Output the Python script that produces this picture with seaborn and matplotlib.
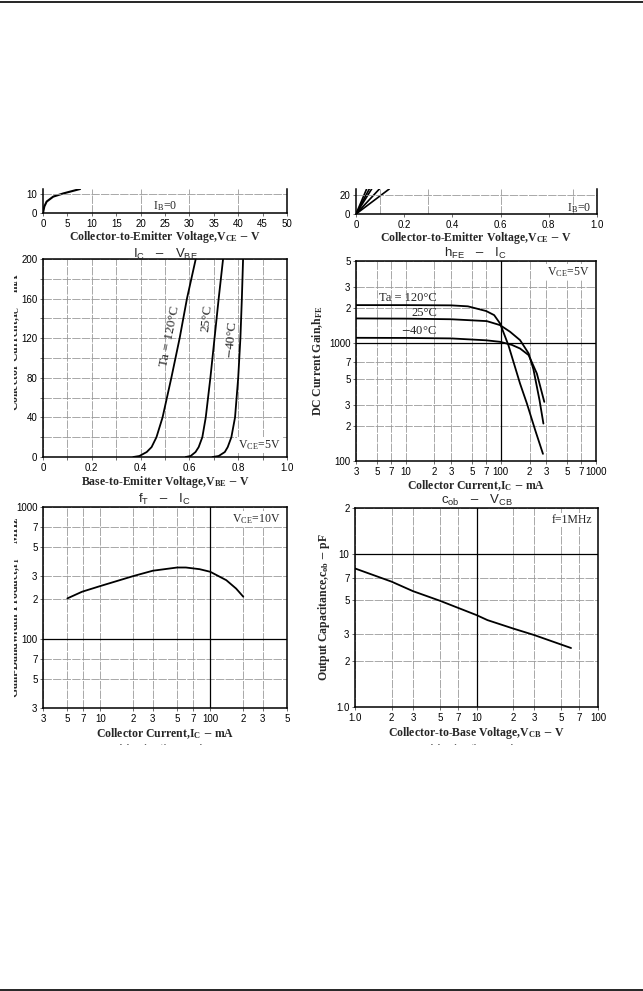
import numpy as np
import pandas as pd
import matplotlib
matplotlib.use('Agg')
import matplotlib.pyplot as plt
import seaborn as sns
from matplotlib.patches import Rectangle
from matplotlib.lines import Line2D

sns.set_theme(style='white')
plt.rcParams['font.family'] = ['Liberation Serif', 'DejaVu Serif']
plt.rcParams['mathtext.fontset'] = 'stix'

# ---------------- data ----------------
# IC - VCE (upper part cut off), left
vce_hi = [0, 0.27, 0.75, 2.1, 4.2, 7.6]
ic_hi = [0, 3.4, 6.0, 8.6, 10.3, 12.6]

# IC - VCE low range (upper part cut off), right: straight lines from origin
vce_lo_end = [0.044, 0.055, 0.065, 0.097, 0.138]
ic_lo_end = 26.5

# IC - VBE
ic_vbe = [0, 1, 5, 10, 20, 40, 80, 120, 160, 200]
vbe_120 = [0.37, 0.395, 0.425, 0.445, 0.465, 0.49, 0.526, 0.56, 0.59, 0.626]
vbe_25 = [0.585, 0.605, 0.625, 0.638, 0.653, 0.667, 0.686, 0.703, 0.72, 0.738]
vbe_m40 = [0.695, 0.72, 0.745, 0.757, 0.772, 0.787, 0.80, 0.809, 0.815, 0.82]

# hFE - IC
ic_h120 = [3, 10, 30, 45, 70, 85, 98, 120, 159, 188, 230, 277]
hfe_120 = [2110, 2110, 2100, 2060, 1880, 1735, 1474, 964, 455, 307, 182, 115]
ic_h25 = [3, 10, 30, 71, 98, 125, 159, 196, 220, 255, 280]
hfe_25 = [1626, 1620, 1600, 1543, 1427, 1252, 1064, 819, 600, 328, 208]
ic_hm40 = [3, 10, 30, 70, 98, 130, 159, 196, 239, 286]
hfe_m40 = [1113, 1110, 1100, 1060, 1029, 970, 903, 793, 553, 318]

# fT - IC
ic_ft = [5, 6.8, 10, 20, 30, 50, 60, 80, 100, 140, 172, 200]
ft = [203, 228, 252, 300, 329, 348, 348, 338, 323, 279, 241, 209]

# cob - VCB
vcb = [1, 2, 3, 5, 10, 12.3, 20, 30, 60]
cob = [8.05, 6.6, 5.72, 4.95, 3.99, 3.70, 3.26, 2.95, 2.43]

# tick labels
hfe_xt = [3, 5, 7, 10, 20, 30, 50, 70, 100, 200, 300, 500, 700, 1000]
hfe_xl = ['3', '5', '7', '10', '2', '3', '5', '7', '100', '2', '3', '5', '7', '1000']
hfe_yt = [100, 200, 300, 500, 700, 1000, 2000, 3000, 5000]
hfe_yl = ['100', '2', '3', '5', '7', '1000', '2', '3', '5']
ft_xt = [3, 5, 7, 10, 20, 30, 50, 70, 100, 200, 300, 500]
ft_xl = ['3', '5', '7', '10', '2', '3', '5', '7', '100', '2', '3', '5']
ft_yt = [30, 50, 70, 100, 200, 300, 500, 700, 1000]
ft_yl = ['3', '5', '7', '100', '2', '3', '5', '7', '1000']
cob_xt = [1, 2, 3, 5, 7, 10, 20, 30, 50, 70, 100]
cob_xl = ['1.0', '2', '3', '5', '7', '10', '2', '3', '5', '7', '100']
cob_yt = [1, 2, 3, 5, 7, 10, 20]
cob_yl = ['1.0', '2', '3', '5', '7', '10', '2']

# ---------------- figure ----------------
W, H = 643, 991
fig = plt.figure(figsize=(W / 100, H / 100), dpi=100)
fig.patch.set_facecolor('white')

SANS = 'Liberation Sans'
GRID = dict(color='#9a9a9a', lw=0.6, ls=(0, (10, 1.5)))


def add_ax(l, r, t, b):
    return fig.add_axes([l / W, 1 - b / H, (r - l) / W, (b - t) / H])


def style(ax, top=True):
    ax.set_facecolor('white')
    for s in ax.spines.values():
        s.set_color('black')
        s.set_linewidth(1.1)
        s.set_visible(True)
    ax.spines['top'].set_visible(top)
    ax.tick_params(axis='both', which='both', length=2.5, width=0.6,
                   color='#555555', pad=1.5, labelsize=7, direction='out',
                   labelcolor='black', labelfontfamily=SANS,
                   bottom=True, left=True)
    ax.grid(True, which='both', **GRID)
    ax.set_axisbelow(True)


def curve(ax, xs, ys, lw=1.3):
    sns.lineplot(x=xs, y=ys, ax=ax, color='black', lw=lw, sort=False,
                 estimator=None, legend=False)


def title(ax, txt):
    ax.set_title(txt, fontsize=9.5, family=SANS, fontweight='light', pad=0.5)


lab = dict(fontsize=8.5, fontweight='bold')
BOX = dict(facecolor='white', edgecolor='none', pad=1)

# page rules
fig.add_artist(Line2D([0, 1], [1 - 1.5 / H, 1 - 1.5 / H], color='black', lw=1.2))
fig.add_artist(Line2D([0, 1], [1 - 989.5 / H, 1 - 989.5 / H], color='black', lw=1.2))

# ---- top left (cut) : IC - VCE ----
ax = add_ax(43, 287, 189, 213)
style(ax, top=False)
curve(ax, vce_hi, ic_hi, lw=1.5)
ax.set_xlim(0, 50)
ax.set_ylim(0, 12.6)
ax.set_xticks(np.arange(0, 51, 5))
ax.set_yticks([0, 10])
ax.grid(False)
for xv in range(10, 50, 10):
    ax.axvline(xv, **GRID)
ax.axhline(10, **GRID)
ax.text(25, 3.5, r'I$_\mathregular{B}$=0', ha='center', va='center', fontsize=8.5)
ax.set_xlabel(r'Collector-to-Emitter Voltage,$\mathregular{V_{CE}}$ $-$ V', labelpad=0, **lab)
ax.set_ylabel('')

# ---- top right (cut) : IC - VCE low ----
ax = add_ax(356, 597, 189, 214)
style(ax, top=False)
for xe in vce_lo_end:
    curve(ax, [0, xe], [0, ic_lo_end], lw=1.2)
ax.set_xlim(0, 1.0)
ax.set_ylim(0, 26.5)
ax.set_xticks([0, 0.2, 0.4, 0.6, 0.8, 1.0])
ax.set_xticklabels(['0', '0.2', '0.4', '0.6', '0.8', '1.0'])
ax.set_yticks([0, 20])
ax.grid(False)
for xv in [0.1, 0.3, 0.6, 0.9]:
    ax.axvline(xv, **GRID)
ax.axhline(20, **GRID)
ax.text(0.975, 6, r'I$_\mathregular{B}$=0', ha='right', va='center', fontsize=8.5)
ax.set_xlabel(r'Collector-to-Emitter Voltage,$\mathregular{V_{CE}}$ $-$ V', labelpad=0, **lab)

# ---- IC - VBE ----
ax = add_ax(43, 287, 259, 457)
style(ax)
for v in (vbe_120, vbe_25, vbe_m40):
    curve(ax, v, ic_vbe)
ax.set_xlim(0, 1.0)
ax.set_ylim(0, 200)
ax.set_xticks([0, 0.2, 0.4, 0.6, 0.8, 1.0])
ax.set_xticklabels(['0', '0.2', '0.4', '0.6', '0.8', '1.0'])
ax.set_xticks(np.arange(0.1, 1.0, 0.2), minor=True)
ax.set_yticks(np.arange(0, 201, 40))
ax.set_yticks(np.arange(20, 200, 40), minor=True)
ax.tick_params(which='minor', labelleft=False, labelbottom=False)
ax.text(0.519, 122, 'Ta = 120°C', rotation=79, ha='center', va='center', fontsize=9.5)
ax.text(0.672, 140, '25°C', rotation=84, ha='center', va='center', fontsize=9.5)
ax.text(0.772, 118, '$-$40°C', rotation=85, ha='center', va='center', fontsize=9.5)
ax.text(0.975, 5, r'V$_\mathregular{CE}$=5V', ha='right', va='bottom', fontsize=8.5, bbox=BOX)
title(ax, r'$\mathregular{I_C}$   $-$   $\mathregular{V_{BE}}$')
ax.set_xlabel(r'Base-to-Emitter Voltage,$\mathregular{V_{BE}}$ $-$ V', labelpad=1, **lab)
ax.set_ylabel(r'Collector Current,$\mathregular{I_C}$ $-$ mA', **lab)
ax.yaxis.set_label_coords(-0.088, 0.58)

# ---- hFE - IC ----
ax = add_ax(356, 596, 261, 461)
ax.set_xscale('log')
ax.set_yscale('log')
style(ax)
curve(ax, ic_h120, hfe_120)
curve(ax, ic_h25, hfe_25)
curve(ax, ic_hm40, hfe_m40)
ax.set_xlim(3, 1000)
ax.set_ylim(100, 5000)
ax.minorticks_off()
ax.set_xticks(hfe_xt)
ax.set_xticklabels(hfe_xl)
ax.set_yticks(hfe_yt)
ax.set_yticklabels(hfe_yl)
ax.axhline(1000, color='black', lw=0.9)
ax.axvline(100, color='black', lw=0.9)
ax.text(0.338, 0.815, 'Ta = 120°C', transform=ax.transAxes, ha='right', va='center', fontsize=9)
ax.text(0.338, 0.74, '25°C', transform=ax.transAxes, ha='right', va='center', fontsize=9)
ax.text(0.338, 0.65, '$-$40°C', transform=ax.transAxes, ha='right', va='center', fontsize=9)
ax.text(0.975, 0.945, r'V$_\mathregular{CE}$=5V', transform=ax.transAxes, ha='right',
        va='center', fontsize=8.5, bbox=BOX)
title(ax, r'$\mathregular{h_{FE}}$   $-$   $\mathregular{I_C}$')
ax.set_xlabel(r'Collector Current,$\mathregular{I_C}$ $-$ mA', labelpad=1, **lab)
ax.set_ylabel(r'DC Current Gain,$\mathregular{h_{FE}}$', labelpad=3, **lab)

# ---- fT - IC ----
ax = add_ax(43, 287, 507, 708)
ax.set_xscale('log')
ax.set_yscale('log')
style(ax)
curve(ax, ic_ft, ft)
ax.set_xlim(3, 500)
ax.set_ylim(30, 1000)
ax.minorticks_off()
ax.set_xticks(ft_xt)
ax.set_xticklabels(ft_xl)
ax.set_yticks(ft_yt)
ax.set_yticklabels(ft_yl)
ax.axhline(100, color='black', lw=0.9)
ax.axvline(100, color='black', lw=0.9)
ax.text(0.975, 0.94, r'V$_\mathregular{CE}$=10V', transform=ax.transAxes, ha='right',
        va='center', fontsize=8.5, bbox=BOX)
title(ax, r'$\mathregular{f_T}$   $-$   $\mathregular{I_C}$')
ax.set_xlabel(r'Collector Current,$\mathregular{I_C}$ $-$ mA', labelpad=2, **lab)
ax.set_ylabel(r'Gain-Bandwidth Product,$\mathregular{f_T}$ $-$ MHz', **lab)
ax.yaxis.set_label_coords(-0.088, 0.5)

# ---- cob - VCB ----
ax = add_ax(355, 598, 508, 707)
ax.set_xscale('log')
ax.set_yscale('log')
style(ax)
curve(ax, vcb, cob)
ax.set_xlim(1, 100)
ax.set_ylim(1, 20)
ax.minorticks_off()
ax.set_xticks(cob_xt)
ax.set_xticklabels(cob_xl)
ax.set_yticks(cob_yt)
ax.set_yticklabels(cob_yl)
ax.axhline(10, color='black', lw=0.9)
ax.axvline(10, color='black', lw=0.9)
ax.text(0.975, 0.94, 'f=1MHz', transform=ax.transAxes, ha='right',
        va='center', fontsize=8.5, bbox=BOX)
title(ax, r'$\mathregular{c_{ob}}$   $-$   $\mathregular{V_{CB}}$')
ax.set_xlabel(r'Collector-to-Base Voltage,$\mathregular{V_{CB}}$ $-$ V', labelpad=2, **lab)
ax.set_ylabel(r'Output Capacitance,$\mathregular{c_{ob}}$ $-$ pF', labelpad=3, **lab)

# titles of the next charts, cut by the page crop
fig.text(165 / W, 1 - 750 / H, r'$\mathregular{V_{CE}(sat)}$   $-$   $\mathregular{I_C}$',
         ha='center', va='center', fontsize=9.5, family=SANS, color='#555555')
fig.text(476 / W, 1 - 750 / H, r'$\mathregular{V_{BE}(sat)}$   $-$   $\mathregular{I_C}$',
         ha='center', va='center', fontsize=9.5, family=SANS, color='#555555')
fig.add_artist(Rectangle((0, 1 - 762 / H), 1, 17.5 / H, transform=fig.transFigure,
                         facecolor='white', edgecolor='none', zorder=20))
# left page edge cuts the rotated labels
fig.add_artist(Rectangle((0, 1 - 975 / H), 14 / W, 730 / H, transform=fig.transFigure,
                         facecolor='white', edgecolor='none', zorder=20))

fig.savefig('out.png', dpi=100, facecolor='white')
